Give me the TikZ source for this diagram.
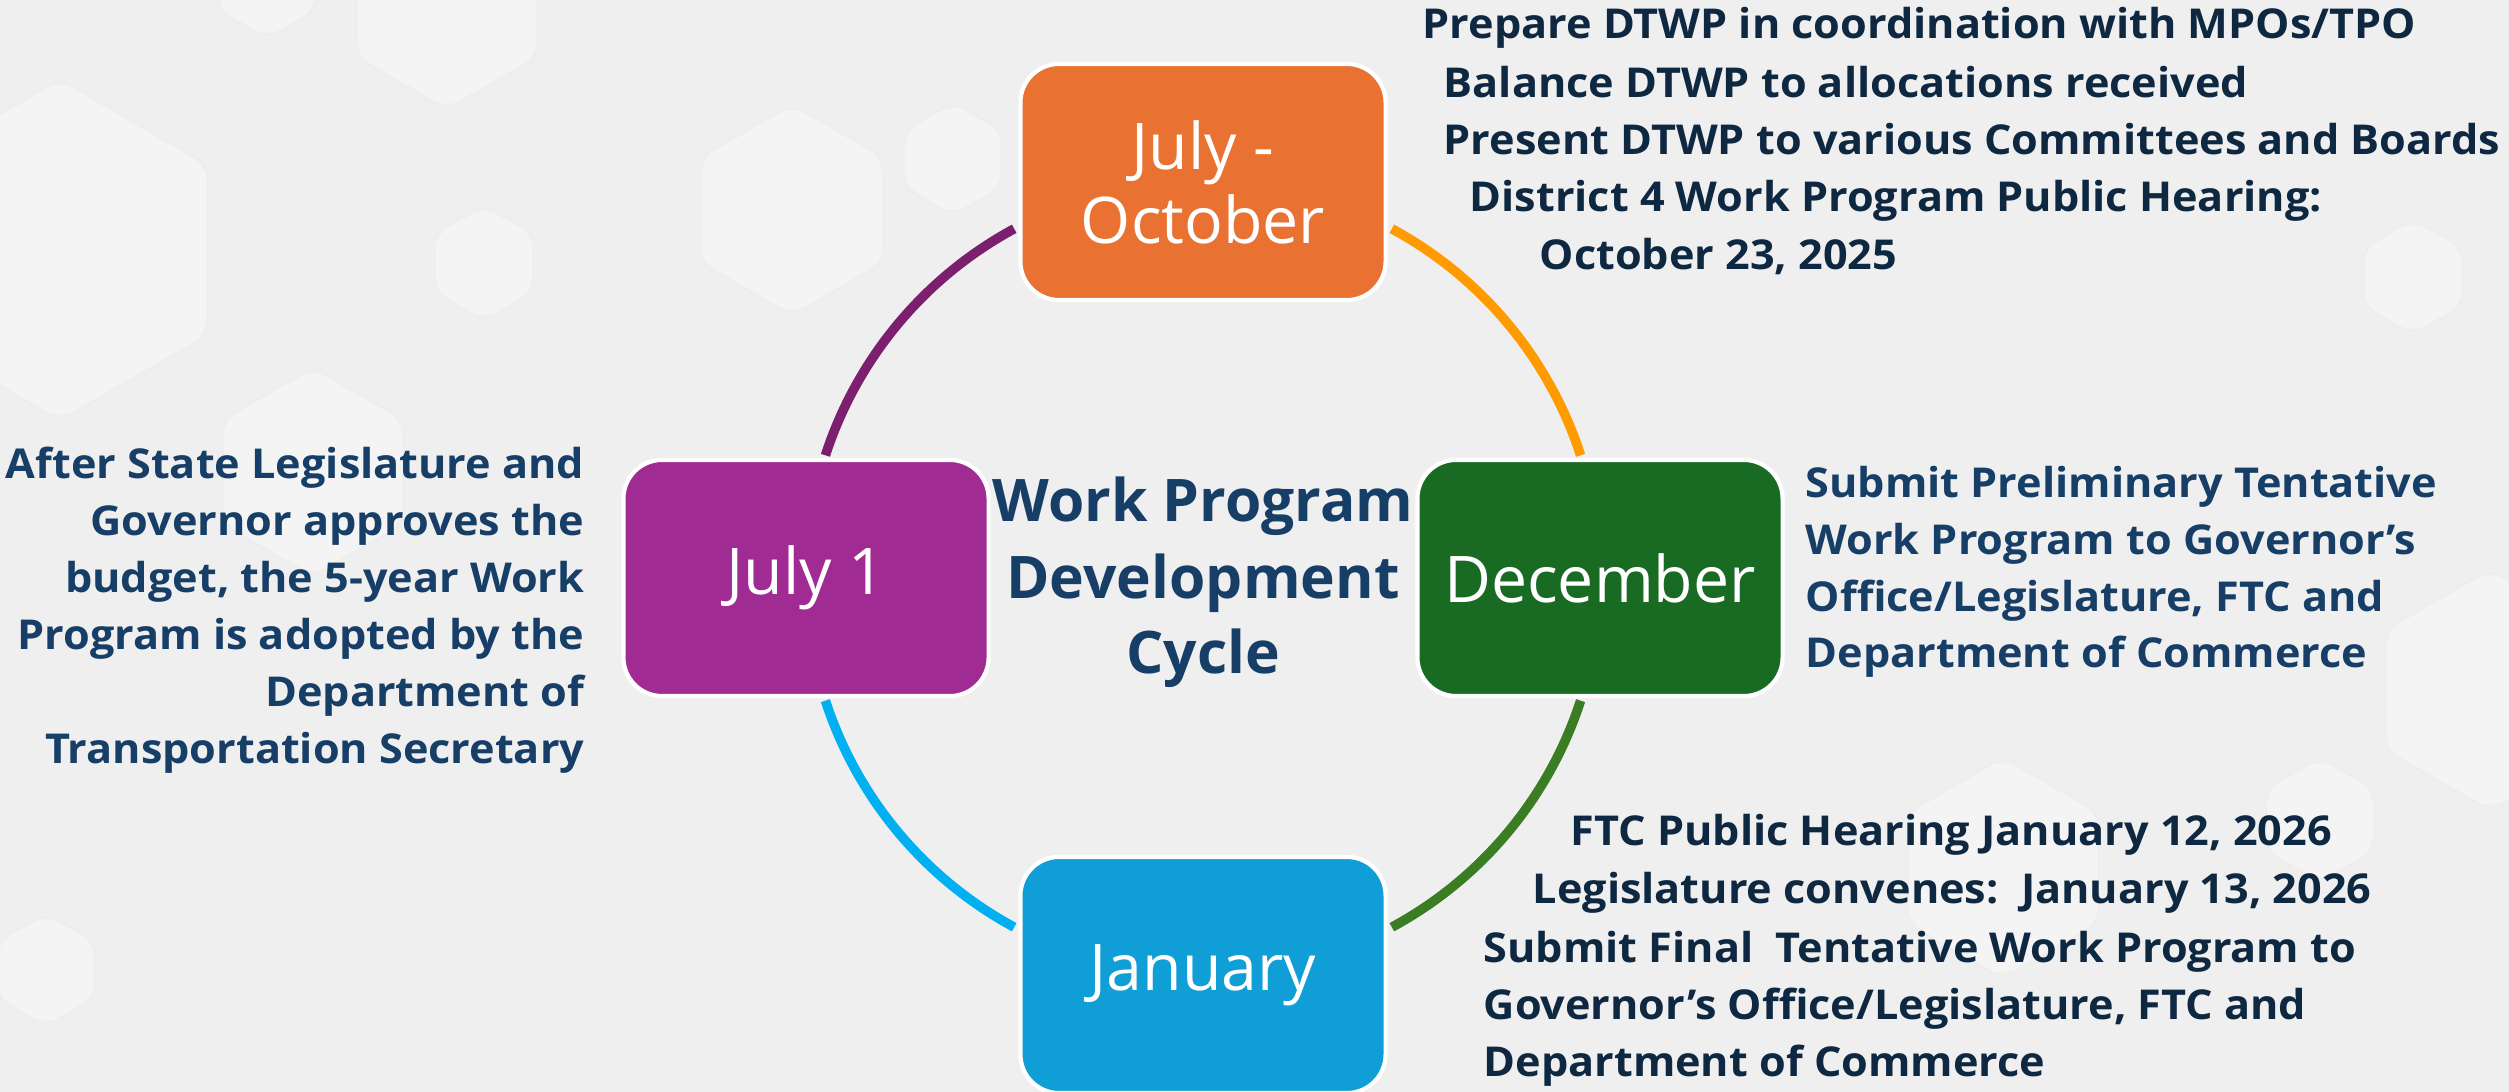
\documentclass[tikz,border=0pt]{standalone}
\usepackage{fontspec}
\setmainfont{Open Sans}
\newfontfamily\notefont{Open Sans}[FakeStretch=1.05]
\usetikzlibrary{calc}
\definecolor{bgcolor}{HTML}{EFEFEF}
\definecolor{julyoct}{HTML}{E97132}
\definecolor{december}{HTML}{196B24}
\definecolor{january}{HTML}{0F9ED5}
\definecolor{julyone}{HTML}{A02B93}
\definecolor{arcorange}{HTML}{FF9A00}
\definecolor{arcgreen}{HTML}{3B7D23}
\definecolor{arcblue}{HTML}{00B0F0}
\definecolor{arcpurple}{HTML}{7B1F6E}
\definecolor{notenavy}{HTML}{0E2841}
\definecolor{noteblue}{HTML}{163E66}
\tikzset{
  hexcell/.style={fill=white, fill opacity=.35, draw=black!8, draw opacity=.4, line width=.6pt, rounded corners=4pt},
  monthbox/.style={draw=white, line width=1.2pt, rounded corners=11pt, minimum width=3.65cm, minimum height=2.36cm,
    text=white, align=center, font=\fontsize{18.3}{21}\selectfont},
  cyclearc/.style={line width=2.7pt},
  noteline/.style={inner sep=0pt, font=\notefont\bfseries\fontsize{11.7}{16}\selectfont},
  hubtitle/.style={inner sep=0pt, text=noteblue, font=\bfseries\fontsize{16.7}{21}\selectfont}
}
\begin{document}
\begin{tikzpicture}[x=0.01cm, y=-0.01cm]
  \useasboundingbox (0,0) rectangle (2509,1092);
  % background with faint hexagons
  \fill[bgcolor] (0,0) rectangle (2509,1092);
  \foreach \cx/\cy/\r in {792/210/105, 953/159/56, 484/263/57, 447/5/104, 267/-18/56, 313/472/104,
      60/250/170, 2413/277/57, 2003/868/110, 46/970/56, 2320/820/62, 2490/690/120}
    \filldraw[hexcell] (\cx,\cy) +(90:\r) -- +(30:\r) -- +(-30:\r) -- +(-90:\r) -- +(-150:\r) -- +(150:\r) -- cycle;
  % cycle
  \coordinate (hub) at (1203,578);
  \draw[cyclearc, arcorange] ($(hub)+(-61.6:397)$) arc[start angle=-61.6, end angle=-18, radius=397];
  \draw[cyclearc, arcgreen] ($(hub)+(18:397)$) arc[start angle=18, end angle=61.6, radius=397];
  \draw[cyclearc, arcblue] ($(hub)+(118.4:397)$) arc[start angle=118.4, end angle=162, radius=397];
  \draw[cyclearc, arcpurple] ($(hub)+(-162:397)$) arc[start angle=-162, end angle=-118.4, radius=397];
  \node[monthbox, fill=julyoct] (julyoct) at (1203,182) {July -\\October};
  \node[monthbox, fill=december] (dec) at (1600,578) {December};
  \node[monthbox, fill=january] (jan) at (1203,975) {January};
  \node[monthbox, fill=julyone] (julyone) at (806,578) {July 1};
  % title in the middle
  \foreach \txt/\yy [count=\i] in {Work Program/522, Development/599, Cycle/674}
    \node[hubtitle, anchor=base] (title\i) at (1203,\yy) {\txt};
  % July - October notes
  \foreach \xx/\yy/\txt [count=\i] in {1422/39/{Prepare DTWP in coordination with MPOs/TPO},
      1443/98/Balance DTWP to allocations received,
      1443/155/Present DTWP to various Committees and Boards,
      1469/212/District 4 Work Program Public Hearing:,
      1539/270/{October 23, 2025}}
    \node[noteline, text=notenavy, anchor=base west] (octnote\i) at (\xx,\yy) {\txt};
  % December notes
  \foreach \yy/\txt [count=\i] in {498/Submit Preliminary Tentative,
      555/Work Program to Governor’s,
      612/{Office/Legislature, FTC and},
      668/Department of Commerce}
    \node[noteline, text=noteblue, anchor=base west] (decnote\i) at (1805,\yy) {\txt};
  % January notes
  \foreach \xx/\yy/\txt [count=\i] in {1570/846/{FTC Public Hearing January 12, 2026},
      1532/904/{Legislature convenes:\ \ January 13, 2026},
      1483/962/Submit Final\ \ Tentative Work Program to,
      1483/1019/{Governor’s Office/Legislature, FTC and},
      1483/1077/Department of Commerce}
    \node[noteline, text=notenavy, anchor=base west] (jannote\i) at (\xx,\yy) {\txt};
  % July 1 notes
  \foreach \yy/\txt [count=\i] in {479/After State Legislature and,
      536/Governor approves the,
      593/{budget, the 5-year Work},
      650/Program is adopted by the,
      707/Department of,
      764/Transportation Secretary}
    \node[noteline, text=noteblue, anchor=base east] (julnote\i) at (585,\yy) {\txt};
\end{tikzpicture}
\end{document}
